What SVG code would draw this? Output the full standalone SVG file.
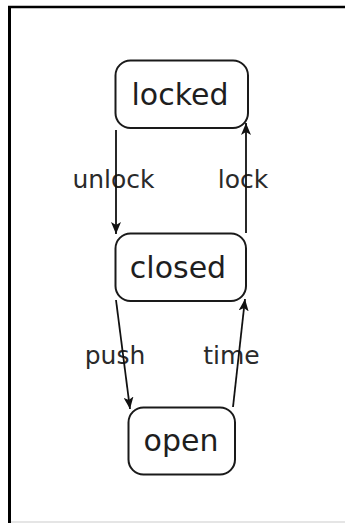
<svg xmlns="http://www.w3.org/2000/svg" width="345" height="523" viewBox="0 0 345 523">
<style>
.node rect{fill:#fff;stroke:#1a1a1a;stroke-width:2}
.node text{font-family:"DejaVu Sans",sans-serif;font-size:30px;fill:#1e1e1e;text-anchor:middle}
.edge{stroke:#111;stroke-width:1.8;fill:none;marker-end:url(#arr)}
.lbl{font-family:"DejaVu Sans",sans-serif;font-size:25px;fill:#2a2a2a;text-anchor:middle}
</style>
<defs>
<marker id="arr" viewBox="0 0 12 10" refX="12" refY="5" markerWidth="12" markerHeight="10" markerUnits="userSpaceOnUse" orient="auto">
<path d="M0,0 L12,5 L0,10 L3,5 Z" fill="#111"/>
</marker>
</defs>
<rect x="0" y="0" width="345" height="523" fill="#fff"/>
<line x1="8" y1="7" x2="345" y2="7" stroke="#000" stroke-width="2.5"/>
<line x1="9.5" y1="6" x2="9.5" y2="523" stroke="#000" stroke-width="3"/>
<line x1="11" y1="522" x2="345" y2="522" stroke="#ddd" stroke-width="1.5"/>
<g id="connectors">
<text class="lbl" x="113.5" y="188">unlock</text>
<text class="lbl" x="243" y="188">lock</text>
<text class="lbl" x="115" y="364">push</text>
<text class="lbl" x="231.5" y="364">time</text>
<line class="edge" x1="116" y1="130" x2="116" y2="234"/>
<line class="edge" x1="246" y1="233" x2="246" y2="123"/>
<line class="edge" x1="116" y1="300" x2="130" y2="409"/>
<line class="edge" x1="233" y1="407" x2="245" y2="299"/>
</g>
<g id="locked" class="node">
<rect x="115.5" y="60.5" width="132.5" height="67.5" rx="15"/>
<text x="180" y="105">locked</text>
</g>
<g id="closed" class="node">
<rect x="115.5" y="233.5" width="130.5" height="67.5" rx="15"/>
<text x="178" y="278">closed</text>
</g>
<g id="open" class="node">
<rect x="128.5" y="407.5" width="106.5" height="67" rx="15"/>
<text x="181" y="451">open</text>
</g>
</svg>
